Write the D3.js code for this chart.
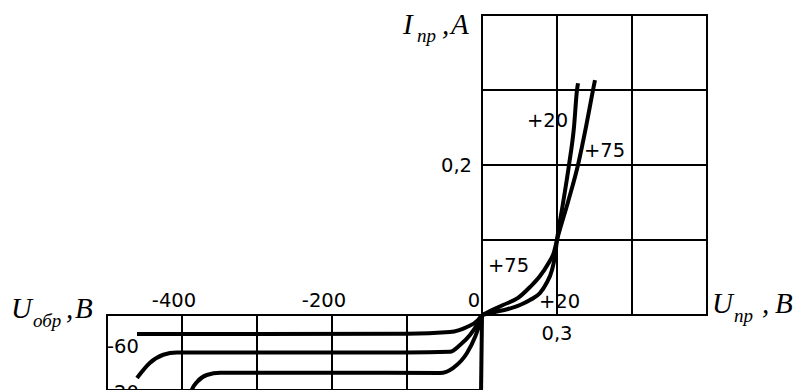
<!DOCTYPE html>
<html>
<head>
<meta charset="utf-8">
<script src="https://cdn.jsdelivr.net/npm/d3@7"></script>
<style>
  html, body { margin: 0; padding: 0; background: #fff; }
  svg { display: block; }
  .tick-lbl { font-family: "DejaVu Sans", sans-serif; font-size: 19.5px; fill: #000; }
  .ax-name { font-family: "Liberation Serif", "Times New Roman", serif; font-style: italic; fill: #000; }
</style>
</head>
<body>
<svg id="chart" width="794" height="390"></svg>
<script>
/* Diode I-V characteristic: forward branch (top right), reverse branch (bottom left) */

// --- data ---
// forward branch: U_пр (V) vs I_пр (A)
const fwdGridV = [0, 0.3, 0.6, 0.9];
const fwdGridI = [0, 0.1, 0.2, 0.3, 0.4];
const fwdT20 = [
  [0, 0], [0.052, 0.004], [0.104, 0.008], [0.152, 0.0133], [0.192, 0.02],
  [0.232, 0.0293], [0.256, 0.0413], [0.28, 0.06], [0.292, 0.0787], [0.3, 0.1],
  [0.324, 0.149], [0.348, 0.2], [0.368, 0.2507], [0.38, 0.3], [0.384, 0.309]
];
const fwdT75 = [
  [0, 0], [0.032, 0.0053], [0.084, 0.0133], [0.144, 0.0227], [0.192, 0.0373],
  [0.232, 0.052], [0.264, 0.068], [0.288, 0.084], [0.3, 0.1],
  [0.344, 0.1507], [0.384, 0.2], [0.416, 0.2507], [0.444, 0.3], [0.452, 0.3133]
];

// reverse branch: U_обр (V) vs reverse current (relative units, one grid cell = 1)
const revGridV = [-500, -400, -300, -200, -100, 0];
const revGridI = [0, 1];
const revCurve1 = [
  [-460, 0.253], [-300, 0.253], [-100, 0.25], [-42.7, 0.227], [-20, 0.16], [-5.3, 0.067], [0, 0]
];
const revCurve2 = [
  [-460, 0.84], [-443, 0.64], [-425, 0.53], [-407, 0.5], [-300, 0.5], [-100, 0.5],
  [-42.7, 0.49], [-29.3, 0.4], [-16, 0.267], [-5.3, 0.107], [0, 0]
];
const revCurve3 = [
  [-390, 1.1], [-387, 1.0], [-380, 0.893], [-367, 0.8], [-349, 0.77], [-200, 0.77],
  [-56, 0.773], [-38.7, 0.707], [-20, 0.507], [-9.3, 0.293], [-2.7, 0.107], [0, 0]
];
const revCurve4 = [[0, 0], [-1.5, 1.2]];

// tick labels
const fwdVLabels = [{ v: 0.3, t: "0,3" }];
const fwdILabels = [{ v: 0.2, t: "0,2" }];
const revVLabels = [{ v: -400, t: "-400" }, { v: -200, t: "-200" }, { v: 0, t: "0" }];

(function () {
  const svg = d3.select("#chart");

  // 1) Scales
  const xF = d3.scaleLinear().domain([0, 0.9]).range([482, 707]);
  const yF = d3.scaleLinear().domain([0, 0.4]).range([315, 15]);
  const xR = d3.scaleLinear().domain([-500, 0]).range([107, 482]);
  const yR = d3.scaleLinear().domain([0, 1]).range([315, 390]);

  // 2) Grids
  const grid = svg.append("g").attr("stroke", "#000").attr("stroke-width", 2);

  grid.selectAll("line.fv").data(fwdGridV).join("line")
    .attr("x1", d => xF(d)).attr("x2", d => xF(d))
    .attr("y1", yF(0.4) - 1).attr("y2", yF(0) + 1);
  grid.selectAll("line.fi").data(fwdGridI).join("line")
    .attr("x1", xF(0) - 1).attr("x2", xF(0.9) + 1)
    .attr("y1", d => yF(d)).attr("y2", d => yF(d));

  grid.selectAll("line.rv").data(revGridV).join("line")
    .attr("x1", d => xR(d)).attr("x2", d => xR(d))
    .attr("y1", yR(0) - 1).attr("y2", yR(1) + 10);
  grid.selectAll("line.ri").data(revGridI).join("line")
    .attr("x1", xR(-500) - 1).attr("x2", xR(0) + 1)
    .attr("y1", d => yR(d)).attr("y2", d => yR(d));

  // 3) Curves
  const lineF = d3.line().x(d => xF(d[0])).y(d => yF(d[1])).curve(d3.curveMonotoneX);
  const lineR = d3.line().x(d => xR(d[0])).y(d => yR(d[1])).curve(d3.curveMonotoneX);

  const curves = svg.append("g")
    .attr("fill", "none").attr("stroke", "#000")
    .attr("stroke-width", 4).attr("stroke-linejoin", "round");

  [fwdT20, fwdT75].forEach(c => curves.append("path").attr("d", lineF(c)));
  [revCurve1, revCurve2, revCurve3].forEach(c => curves.append("path").attr("d", lineR(c)));
  curves.append("path").attr("d", d3.line().x(d => xR(d[0])).y(d => yR(d[1]))(revCurve4));

  // 4) Tick labels
  const lbl = svg.append("g").attr("class", "tick-lbl");

  lbl.selectAll("text.fv").data(fwdVLabels).join("text")
    .attr("x", d => xF(d.v)).attr("y", yF(0) + 25)
    .attr("text-anchor", "middle").text(d => d.t);
  lbl.selectAll("text.fi").data(fwdILabels).join("text")
    .attr("x", xF(0) - 10).attr("y", d => yF(d.v) + 7)
    .attr("text-anchor", "end").text(d => d.t);
  lbl.selectAll("text.rv").data(revVLabels).join("text")
    .attr("x", d => xR(d.v) - 8).attr("y", yR(0) - 8)
    .attr("text-anchor", "middle").text(d => d.t);

  // curve labels (temperatures)
  lbl.append("text").attr("x", 527).attr("y", 127).text("+20");
  lbl.append("text").attr("x", 584).attr("y", 157).text("+75");
  lbl.append("text").attr("x", 488).attr("y", 272).text("+75");
  lbl.append("text").attr("x", 539).attr("y", 308).text("+20");
  lbl.append("text").attr("x", 107).attr("y", 353).text("-60");
  lbl.append("text").attr("x", 107).attr("y", 399).text("-20");

  // 5) Axis names
  function axisName(parts) {
    parts.forEach(p => {
      svg.append("text").attr("class", "ax-name")
        .attr("x", p.x).attr("y", p.y)
        .attr("font-size", p.s).text(p.t);
    });
  }
  axisName([
    { t: "I", x: 403, y: 34, s: 29 },
    { t: "пр", x: 417, y: 42, s: 19 },
    { t: ",", x: 442, y: 34, s: 29 },
    { t: "А", x: 451, y: 34, s: 29 }
  ]);
  axisName([
    { t: "U", x: 712, y: 313, s: 29 },
    { t: "пр", x: 734, y: 322, s: 19 },
    { t: ",", x: 762, y: 313, s: 29 },
    { t: "В", x: 775, y: 313, s: 29 }
  ]);
  axisName([
    { t: "U", x: 11, y: 318, s: 29 },
    { t: "обр", x: 33, y: 327, s: 19 },
    { t: ",", x: 66, y: 318, s: 29 },
    { t: "В", x: 75, y: 318, s: 29 }
  ]);
})();
</script>
</body>
</html>
